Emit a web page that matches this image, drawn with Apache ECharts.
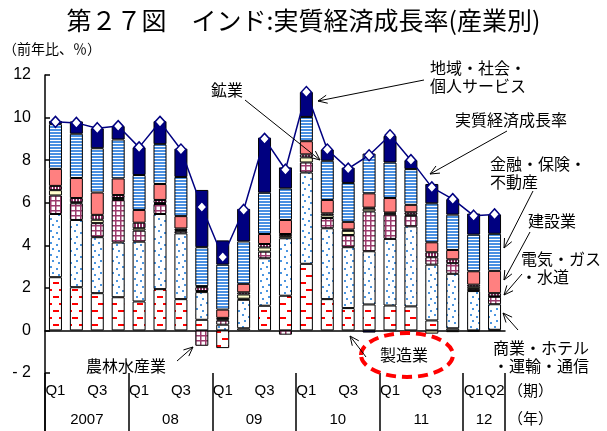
<!DOCTYPE html>
<html><head><meta charset="utf-8">
<script src="https://cdn.jsdelivr.net/npm/echarts@6/dist/echarts.min.js"></script>
<style>html,body{margin:0;padding:0;background:#fff}#c{width:607px;height:431px}</style>
</head><body><div id="c"></div>
<script>
// ---- data ----
const years = ['2007','08','09','10','11','12'];
const quartersPerYear = [4,4,4,4,4,2];
const quarterLabelsPerYear = [['Q1','','Q3',''],['Q1','','Q3',''],['Q1','','Q3',''],['Q1','','Q3',''],['Q1','','Q3',''],['Q1','Q2']];
const manufacturing = [2.5, 2.03, 1.75, 1.56, 1.36, 1.94, 1.47, 0.5, -0.83, 0.1, 1.16, 1.63, 3.13, 1.47, 1.05, 1.22, 1.17, 1.13, 0.47, 0.1, -0.05, 0.03];
const commerce = [2.97, 3.16, 2.63, 2.57, 2.81, 3.53, 3.09, 1.3, 0.27, 1.34, 2.23, 2.7, 4.29, 3.33, 2.86, 2.5, 3.13, 3.76, 2.62, 2.56, 1.85, 1.2];
const agriculture = [0.87, 0.78, 0.66, 2.0, 0.52, 0.47, 0.1, -0.72, 0.2, 0.05, 0.31, -0.2, 0.47, 0.48, 0.57, 1.87, 1.14, 0.5, 0.35, 0.5, 0.1, 0.35];
const mining = [0.25, 0.05, 0.16, 0.09, 0.11, 0.05, 0.05, 0.05, 0.05, 0.2, 0.2, 0.1, 0.24, 0.13, 0.2, 0.13, 0.05, 0.05, -0.15, -0.08, 0.1, 0.02];
const utilities = [0.2, 0.2, 0.23, 0.14, 0.26, 0.14, 0.08, 0.18, 0.07, 0.1, 0.16, 0.1, 0.14, 0.09, 0.06, 0.05, 0.05, 0.11, 0.23, 0.18, 0.1, 0.15];
const construction = [0.8, 0.94, 1.05, 0.78, 0.6, 0.75, 0.58, 0.05, 0.39, 0.4, 0.47, 0.66, 0.62, 0.63, 0.36, 0.67, 0.68, 0.35, 0.47, 0.44, 0.63, 1.05];
const finance = [2.1, 2.08, 2.08, 1.83, 1.64, 1.87, 1.84, 1.83, 2.11, 1.99, 1.94, 1.48, 1.14, 1.84, 1.83, 1.87, 1.67, 1.68, 1.83, 1.66, 1.72, 1.74];
const community = [0.15, 0.58, 0.93, 0.63, 1.3, 1.08, 1.33, 2.69, 1.14, 1.53, 2.59, 0.99, 1.17, 0.53, 0.72, -0.1, 1.25, 0.42, 0.91, 0.73, 0.99, 0.91];
const realGrowth = [9.8, 9.75, 9.5, 9.6, 8.6, 9.8, 8.5, 5.8, 3.45, 5.66, 9.0, 7.55, 11.2, 8.5, 7.6, 8.23, 9.17, 8.0, 6.72, 6.17, 5.39, 5.45];
const yTicks = {min:-2, max:12, interval:2};

// ---- derived ----
const categories = [], quarterLabels = [], yearBounds = [0], yearCenters = [], yearMap = {};
let acc = 0;
years.forEach((y, i) => {
  quarterLabelsPerYear[i].forEach((q, j) => { categories.push(y + '-' + (j+1)); quarterLabels.push(q); });
  const c = acc + quartersPerYear[i] / 2; yearCenters.push(c); yearMap[c] = y;
  acc += quartersPerYear[i]; yearBounds.push(acc);
});
const totalQ = acc;

// ---- patterns ----
function pat(w, h, draw) {
  const c = document.createElement('canvas'); c.width = w; c.height = h;
  const g = c.getContext('2d'); g.fillStyle = '#fff'; g.fillRect(0, 0, w, h); draw(g);
  return {image: c, repeat: 'repeat'};
}
const pMfg = pat(13, 14, g => { g.fillStyle = '#ff0000'; g.fillRect(1, 2, 6, 2); g.fillRect(7, 9, 6, 2); });
const pCom = pat(12, 12, g => { g.fillStyle = '#4a95e0'; [[2,2],[8,4],[4,8],[10,10]].forEach(p => g.fillRect(p[0], p[1], 2, 2)); });
const pAgri = pat(5, 5, g => { g.fillStyle = '#9b3a6c'; g.fillRect(0, 0, 5, 1.5); g.fillRect(0, 0, 1.5, 5); });
const pUtil = pat(3, 3, g => { g.fillStyle = '#8b2a60'; g.fillRect(0, 0, 1, 3); g.fillRect(2, 0, 1, 3); });
const pFin = pat(3, 3, g => { g.fillStyle = '#4a90e2'; g.fillRect(0, 0, 3, 2); });

const FONT = '"Noto Sans CJK JP", sans-serif';
const NUMFONT = '"Liberation Sans", Arial, sans-serif';

const stackDefs = [
  ['製造業', manufacturing, pMfg],
  ['商業・ホテル・運輸・通信', commerce, pCom],
  ['農林水産業', agriculture, pAgri],
  ['鉱業', mining, '#ffffcc'],
  ['電気・ガス・水道', utilities, pUtil],
  ['建設業', construction, '#ff8080'],
  ['金融・保険・不動産', finance, pFin],
  ['地域・社会・個人サービス', community, '#000080']
];

const series = stackDefs.map(d => ({
  name: d[0], type: 'bar', stack: 'total', xAxisIndex: 0, data: d[1], barWidth: 13,
  itemStyle: {color: d[2], borderColor: '#000', borderWidth: 1}
}));
series.push({
  name: '実質経済成長率', type: 'line', xAxisIndex: 0, data: realGrowth, z: 10,
  symbol: 'diamond', symbolSize: [10, 11],
  lineStyle: {color: '#000080', width: 1.5},
  itemStyle: {color: '#fff', borderColor: '#000080', borderWidth: 1.5}
});

function arrow(x1, y1, x2, y2) {
  const a = Math.atan2(y2 - y1, x2 - x1), L = 10, s = 0.42;
  return [
    {type: 'line', shape: {x1, y1, x2, y2}, style: {stroke: '#000', lineWidth: 1}, z: 100},
    {type: 'polyline', shape: {points: [[x2 - L*Math.cos(a - s), y2 - L*Math.sin(a - s)], [x2, y2], [x2 - L*Math.cos(a + s), y2 - L*Math.sin(a + s)]]},
     style: {stroke: '#000', lineWidth: 1, fill: 'none'}, z: 100}
  ];
}
function txt(x, y, t, size) {
  return {type: 'text', x, y, z: 100, style: {text: t, fontFamily: FONT, fontSize: size || 16, fill: '#000', lineHeight: (size || 16) + 2}};
}

const graphic = [
  txt(3, 41, '（前年比、％）', 14),
  txt(430, 59, '地域・社会・\n個人サービス'),
  ...arrow(424, 80, 318, 101),
  txt(211, 81, '鉱業'),
  ...arrow(245, 100, 320, 160),
  txt(455, 111, '実質経済成長率'),
  ...arrow(507, 131, 430, 174),
  txt(490, 155, '金融・保険・\n不動産'),
  ...arrow(533, 191, 504, 248),
  txt(528, 212, '建設業'),
  ...arrow(530, 232, 504, 280),
  txt(521, 250, '電気・ガス\n・水道'),
  ...arrow(522, 274, 504, 295),
  txt(493, 339, '商業・ホテル\n・運輸・通信'),
  ...arrow(518, 330, 503, 313),
  txt(86, 357, '農林水産業'),
  ...arrow(177, 361, 193, 347),
  {type: 'ellipse', shape: {cx: 407, cy: 355, rx: 46, ry: 22}, z: 99,
   style: {stroke: '#ff0000', lineWidth: 4, lineDash: [10, 6], fill: 'none'}},
  txt(380, 346, '製造業'),
  ...arrow(366, 357, 350, 336),
  txt(508, 382, '（期）', 15),
  txt(508, 410, '（年）', 15),
  {type: 'line', shape: {x1: 45, y1: 373, x2: 45, y2: 431}, style: {stroke: '#000', lineWidth: 1.5}}
];

const chart = echarts.init(document.getElementById('c'), null, {renderer: 'canvas'});
chart.setOption({
  animation: false,
  backgroundColor: '#fff',
  title: {text: '第２７図　インド:実質経済成長率(産業別)', left: 'center', top: 3,
          textStyle: {fontFamily: FONT, fontSize: 25, fontWeight: 'normal', color: '#000'}},
  grid: {left: 45, right: 102, top: 75, bottom: 58},
  xAxis: [
    {type: 'category', data: categories, axisLine: {onZero: true, lineStyle: {color: '#000', width: 1.5}},
     axisTick: {show: false}, axisLabel: {show: false}},
    {type: 'category', data: categories, position: 'bottom', axisLine: {show: false, onZero: false},
     axisTick: {show: false},
     axisLabel: {interval: 0, formatter: (v, i) => quarterLabels[i], margin: 10, fontSize: 15, fontFamily: NUMFONT, color: '#000'}},
    {type: 'value', min: 0, max: totalQ, position: 'bottom', axisLine: {show: false, onZero: false},
     splitLine: {show: false},
     axisTick: {show: true, customValues: yearBounds, length: 58, lineStyle: {color: '#000', width: 1.5}},
     axisLabel: {customValues: yearCenters, formatter: v => yearMap[v] || '', margin: 39, fontSize: 15, fontFamily: NUMFONT, color: '#000'}}
  ],
  yAxis: {type: 'value', min: yTicks.min, max: yTicks.max, interval: yTicks.interval,
    axisLine: {show: true, onZero: false, lineStyle: {color: '#000', width: 1.5}},
    axisTick: {show: true, inside: true, length: 5, lineStyle: {color: '#000', width: 1.5}},
    splitLine: {show: false},
    axisLabel: {formatter: v => v < 0 ? '- ' + Math.abs(v) : String(v), fontSize: 16, margin: 14, color: '#000', fontFamily: NUMFONT}},
  series,
  graphic
});
</script></body></html>
